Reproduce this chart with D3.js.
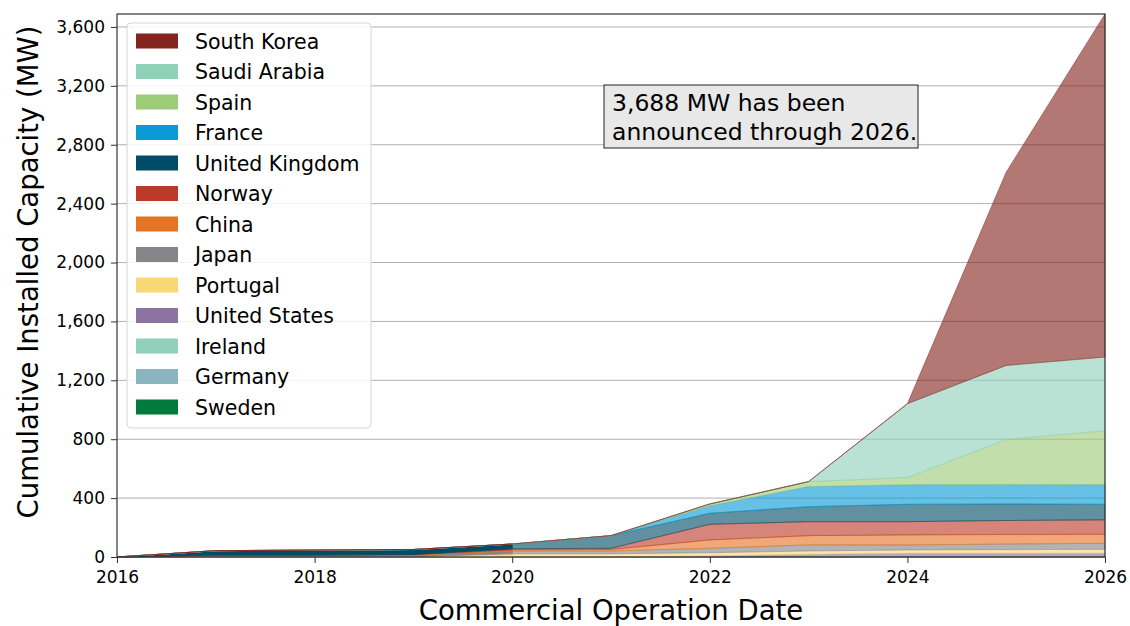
<!DOCTYPE html>
<meta charset="utf-8">
<style>
    body {
        margin: 0;
        background: #fff;
        font-family: "DejaVu Sans", sans-serif;
    }
    text {
        font-family: "DejaVu Sans", sans-serif;
        fill: #000;
    }
    .tick text {
        font-size: 17px;
    }
    .tick line {
        stroke: #333;
    }
    .domain {
        display: none;
    }
    .grid line {
        stroke: #b0b0b0;
        stroke-width: 1;
    }
</style>
<body>
<div id="chart"></div>
<script src="https://cdnjs.cloudflare.com/ajax/libs/d3/7.8.5/d3.min.js"></script>
<script>
    var years = [2016, 2017, 2018, 2019, 2020, 2021, 2022, 2023, 2024, 2025, 2026];

    // cumulative MW per country, stacked bottom (Sweden) to top (South Korea)
    var sweden        = [0, 0, 0, 0, 0, 0, 0, 0, 0, 0, 0];
    var germany       = [0, 0, 0, 0, 0, 0, 0, 0, 0, 0, 0];
    var ireland       = [0, 0, 0, 0, 0, 0, 0, 0, 0, 0, 0];
    var unitedStates  = [0, 0, 0, 0, 0, 0, 7, 18, 25, 25, 25];
    var portugal      = [0, 0, 0, 2, 22, 22, 22, 23, 23, 25, 27];
    var japan         = [0, 11, 11, 11, 19, 19, 30, 41, 34, 38, 41];
    var china         = [0, 0, 0, 2, 8, 10, 57, 63, 68, 65, 61];
    var norway        = [0, 2, 2, 2, 7, 8, 106, 95, 90, 95, 98];
    var unitedKingdom = [0, 30, 32, 32, 32, 86, 75, 102, 118, 112, 106];
    var france        = [0, 0, 2, 2, 0, 0, 50, 136, 132, 132, 132];
    var spain         = [0, 0, 0, 0, 0, 0, 13, 34, 49, 306, 367];
    var saudiArabia   = [0, 0, 0, 0, 0, 0, 0, 0, 502, 503, 501];
    var southKorea    = [0, 0, 0, 0, 0, 0, 0, 0, 0, 1313, 2330];

    var yTicks = [0, 400, 800, 1200, 1600, 2000, 2400, 2800, 3200, 3600];
    var xTicks = [2016, 2018, 2020, 2022, 2024, 2026];

    var series = [
        {name: "Sweden", values: sweden, color: "#007a3d"},
        {name: "Germany", values: germany, color: "#88b5c0"},
        {name: "Ireland", values: ireland, color: "#8fd0b9"},
        {name: "United States", values: unitedStates, color: "#8b74a1"},
        {name: "Portugal", values: portugal, color: "#f9d776"},
        {name: "Japan", values: japan, color: "#85858a"},
        {name: "China", values: china, color: "#e57425"},
        {name: "Norway", values: norway, color: "#bb3a28"},
        {name: "United Kingdom", values: unitedKingdom, color: "#004c66"},
        {name: "France", values: france, color: "#0a9bd6"},
        {name: "Spain", values: spain, color: "#9dcb78"},
        {name: "Saudi Arabia", values: saudiArabia, color: "#8fd0b9"},
        {name: "South Korea", values: southKorea, color: "#84231f"}
    ];

    var total = 3688;

    var W = 1130, H = 626;
    var margin = {top: 14, right: 25, bottom: 69, left: 117};

    var x = d3.scaleLinear().domain([2016, 2026]).range([margin.left, W - margin.right]);
    var y = d3.scaleLinear().domain([0, total]).range([H - margin.bottom, margin.top]);

    var svg = d3.select("#chart").append("svg")
            .attr("width", W)
            .attr("height", H);

    // grid
    svg.append("g")
            .attr("class", "grid")
            .selectAll("line")
            .data(yTicks)
            .enter().append("line")
            .attr("x1", x(2016)).attr("x2", x(2026))
            .attr("y1", function(d) { return y(d); })
            .attr("y2", function(d) { return y(d); });

    // stacked data
    var table = years.map(function(yr, i) {
        var row = {year: yr};
        series.forEach(function(s) { row[s.name] = s.values[i]; });
        return row;
    });
    var stack = d3.stack().keys(series.map(function(s) { return s.name; }));
    var layers = stack(table);

    var area = d3.area()
            .x(function(d) { return x(d.data.year); })
            .y0(function(d) { return y(d[0]); })
            .y1(function(d) { return y(d[1]); });

    function drawPart(filterFn, alpha) {
        var g = svg.append("g");
        layers.forEach(function(layer, i) {
            var pts = layer.filter(function(d) { return filterFn(d.data.year); });
            g.append("path")
                    .attr("d", area(pts))
                    .attr("fill", series[i].color)
                    .attr("fill-opacity", alpha)
                    .attr("stroke", series[i].color)
                    .attr("stroke-opacity", alpha)
                    .attr("stroke-width", 0.8);
        });
    }
    // operating (opaque) and announced (translucent)
    drawPart(function(yr) { return yr <= 2020; }, 1);
    drawPart(function(yr) { return yr >= 2020; }, 0.62);

    // axes
    var yAxis = d3.axisLeft(y).tickValues(yTicks).tickSize(6).tickPadding(6)
            .tickFormat(d3.format(","));
    var xAxis = d3.axisBottom(x).tickValues(xTicks).tickSize(6).tickPadding(8)
            .tickFormat(d3.format("d"));

    svg.append("g")
            .attr("transform", "translate(" + margin.left + ",0)")
            .call(yAxis);
    svg.append("g")
            .attr("transform", "translate(0," + (H - margin.bottom) + ")")
            .call(xAxis);

    // frame
    svg.append("rect")
            .attr("x", x(2016)).attr("y", y(total))
            .attr("width", x(2026) - x(2016))
            .attr("height", y(0) - y(total))
            .attr("fill", "none")
            .attr("stroke", "#333")
            .attr("stroke-width", 1.2);

    // axis titles
    svg.append("text")
            .attr("x", (x(2016) + x(2026)) / 2)
            .attr("y", 620)
            .attr("text-anchor", "middle")
            .style("font-size", "27.5px")
            .text("Commercial Operation Date");

    svg.append("text")
            .attr("transform", "translate(38,272) rotate(-90)")
            .attr("text-anchor", "middle")
            .style("font-size", "27.5px")
            .text("Cumulative Installed Capacity (MW)");

    // legend
    var legend = svg.append("g");
    legend.append("rect")
            .attr("x", 127).attr("y", 23)
            .attr("width", 244).attr("height", 405)
            .attr("rx", 4)
            .attr("fill", "#fff").attr("fill-opacity", 0.85)
            .attr("stroke", "#d6d6d6");

    var legendItems = series.slice().reverse();
    legendItems.forEach(function(s, i) {
        var cy = 41 + i * 30.5;
        legend.append("rect")
                .attr("x", 136).attr("y", cy - 7.5)
                .attr("width", 42).attr("height", 15)
                .attr("fill", s.color);
        legend.append("text")
                .attr("x", 195).attr("y", cy + 7.5)
                .style("font-size", "20.5px")
                .text(s.name);
    });

    // annotation
    var note = svg.append("g");
    note.append("rect")
            .attr("x", 604).attr("y", 85)
            .attr("width", 314).attr("height", 63)
            .attr("fill", "#e8e8e8")
            .attr("stroke", "#222");
    note.append("text")
            .attr("x", 612).attr("y", 111)
            .style("font-size", "23.5px")
            .text(d3.format(",")(total) + " MW has been");
    note.append("text")
            .attr("x", 612).attr("y", 140)
            .style("font-size", "23.5px")
            .text("announced through 2026.");
</script>
</body>
